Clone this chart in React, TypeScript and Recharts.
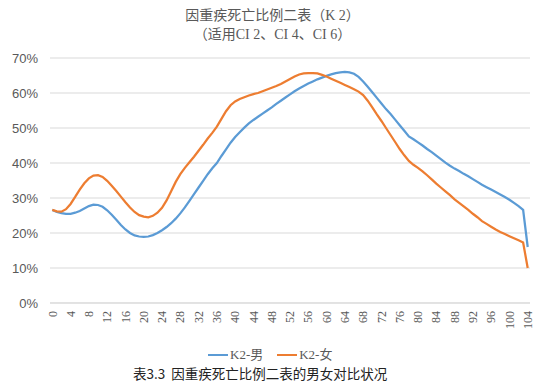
import React from 'react';
import { LineChart, Line, XAxis, YAxis, CartesianGrid } from 'recharts';

// 年龄 0-104
const ages = [
  0, 1, 2, 3, 4, 5, 6, 7, 8, 9, 10, 11, 12, 13, 14, 15, 16, 17, 18, 19,
  20, 21, 22, 23, 24, 25, 26, 27, 28, 29, 30, 31, 32, 33, 34, 35, 36, 37, 38, 39,
  40, 41, 42, 43, 44, 45, 46, 47, 48, 49, 50, 51, 52, 53, 54, 55, 56, 57, 58, 59,
  60, 61, 62, 63, 64, 65, 66, 67, 68, 69, 70, 71, 72, 73, 74, 75, 76, 77, 78, 79,
  80, 81, 82, 83, 84, 85, 86, 87, 88, 89, 90, 91, 92, 93, 94, 95, 96, 97, 98, 99,
  100, 101, 102, 103, 104,
];

// K2-男 (%)
const male = [
  26.6, 26.0, 25.7, 25.5, 25.5, 25.8, 26.3, 27.0, 27.7, 28.1,
  28.0, 27.5, 26.5, 25.2, 23.8, 22.3, 21.0, 20.0, 19.3, 19.0,
  18.9, 19.0, 19.4, 20.0, 20.8, 21.7, 22.8, 24.1, 25.6, 27.3,
  29.2, 31.1, 33.0, 34.9, 36.8, 38.5, 40.0, 42.0, 43.9, 45.8,
  47.4, 48.8, 50.1, 51.3, 52.3, 53.2, 54.1, 55.0, 55.9, 56.9,
  57.8, 58.7, 59.6, 60.5, 61.3, 62.0, 62.7, 63.3, 63.9, 64.4,
  64.9, 65.3, 65.7, 65.9, 66.0, 65.9, 65.5, 64.6, 63.3, 61.8,
  60.2, 58.6, 57.0, 55.4, 54.0, 52.4, 50.8, 49.2, 47.6, 46.8,
  45.9, 45.0, 44.0, 43.1, 42.1, 41.1, 40.1, 39.2, 38.4, 37.7,
  36.9, 36.2, 35.4, 34.6, 33.8, 33.1, 32.4, 31.7, 31.0, 30.3,
  29.5, 28.6, 27.7, 26.6, 16.0,
];

// K2-女 (%)
const female = [
  26.6, 26.2, 26.1, 26.8, 28.3, 30.3, 32.4, 34.2, 35.6, 36.4,
  36.5, 36.0, 34.9, 33.5, 32.0, 30.4, 28.8, 27.3, 26.0, 25.1,
  24.7, 24.5, 24.9, 25.8, 27.2, 29.3, 31.9, 34.6, 36.8, 38.6,
  40.2, 41.8, 43.5, 45.2, 47.0, 48.6, 50.4, 52.6, 54.8, 56.5,
  57.6, 58.3, 58.8, 59.3, 59.7, 60.0, 60.5, 61.0, 61.5, 62.0,
  62.6, 63.3, 64.0, 64.7, 65.3, 65.6, 65.7, 65.7, 65.6, 65.2,
  64.7, 64.1, 63.5, 62.9, 62.3, 61.7, 61.1, 60.4, 59.4, 57.8,
  55.9, 53.9, 52.0, 50.0, 48.0, 46.0, 44.0, 42.2, 40.6, 39.5,
  38.6, 37.6, 36.5, 35.3, 34.1, 33.0, 31.9, 30.8, 29.6, 28.6,
  27.6, 26.6, 25.5, 24.5, 23.4, 22.6, 21.8, 21.0, 20.3, 19.7,
  19.1, 18.5, 17.9, 17.3, 10.0,
];

const xTicks = [0, 4, 8, 12, 16, 20, 24, 28, 32, 36, 40, 44, 48, 52, 56, 60, 64, 68, 72, 76, 80, 84, 88, 92, 96, 100, 104];
const yTicks = [0, 10, 20, 30, 40, 50, 60, 70];

const data = ages.map((age, i) => ({ age, male: male[i], female: female[i] }));

const BLUE = '#5B9BD5';
const ORANGE = '#ED7D31';
const GREY = '#595959';
const SERIF = "'Liberation Serif', 'Noto Sans CJK SC', serif";

const AgeTick = (props: any) => {
  const { x, y, payload } = props;
  return (
    <g transform={`translate(${x},${y}) rotate(-90)`}>
      <text x={0} y={0} dy="0.35em" textAnchor="end" fill={GREY} style={{ fontFamily: SERIF, fontSize: 12 }}>
        {payload.value}
      </text>
    </g>
  );
};

const LegendItem = ({ color, label }: { color: string; label: string }) => (
  <span style={{ display: 'inline-flex', alignItems: 'center', marginRight: 14 }}>
    <span style={{ display: 'inline-block', width: 20, height: 2.5, background: color, marginRight: 2 }} />
    <span>{label}</span>
  </span>
);

export default function App() {
  return (
    <div
      style={{
        position: 'absolute',
        left: 0,
        top: 0,
        width: 550,
        height: 388,
        background: '#fff',
        overflow: 'hidden',
      }}
    >
      <div
        style={{
          position: 'absolute',
          top: 6,
          left: 0,
          width: 545,
          textAlign: 'center',
          color: GREY,
          fontFamily: SERIF,
          fontSize: 14,
          lineHeight: '19px',
        }}
      >
        <div>因重疾死亡比例二表（K 2）</div>
        <div>（适用CI 2、CI 4、CI 6）</div>
      </div>

      <LineChart width={550} height={388} data={data} margin={{ top: 58, right: 20, bottom: 55, left: 0 }}>
        <CartesianGrid vertical={false} stroke="#D9D9D9" />
        <XAxis
          dataKey="age"
          ticks={xTicks}
          interval={0}
          height={30}
          padding={{ left: 2.3, right: 2.3 }}
          axisLine={{ stroke: '#D9D9D9' }}
          tickLine={false}
          tick={<AgeTick />}
        />
        <YAxis
          domain={[0, 70]}
          ticks={yTicks}
          width={50}
          axisLine={false}
          tickLine={false}
          tickMargin={6}
          tickFormatter={(v) => `${v}%`}
          tick={{ fill: GREY, fontSize: 13, fontFamily: "'Liberation Sans', sans-serif" }}
        />
        <Line type="linear" dataKey="male" name="K2-男" stroke={BLUE} strokeWidth={2.25} dot={false} isAnimationActive={false} />
        <Line type="linear" dataKey="female" name="K2-女" stroke={ORANGE} strokeWidth={2.25} dot={false} isAnimationActive={false} />
      </LineChart>

      <div
        style={{
          position: 'absolute',
          top: 343,
          left: 208,
          color: GREY,
          fontFamily: SERIF,
          fontSize: 13,
          lineHeight: '18px',
          whiteSpace: 'nowrap',
        }}
      >
        <LegendItem color={BLUE} label="K2-男" />
        <LegendItem color={ORANGE} label="K2-女" />
      </div>

      <div
        style={{
          position: 'absolute',
          top: 364,
          left: 133,
          color: '#222',
          fontFamily: "'Noto Sans CJK SC', sans-serif",
          fontSize: 13.5,
          lineHeight: '18px',
          whiteSpace: 'nowrap',
        }}
      >
        表3.3&nbsp;&nbsp;因重疾死亡比例二表的男女对比状况
      </div>
    </div>
  );
}
